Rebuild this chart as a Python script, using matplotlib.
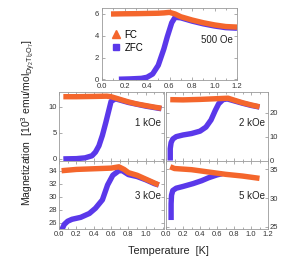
import matplotlib
matplotlib.use("Agg")
import matplotlib.pyplot as plt
from matplotlib.lines import Line2D
from matplotlib.ticker import MultipleLocator

plt.rcParams['font.family'] = ['Liberation Sans', 'DejaVu Sans']

FC_COLOR = '#F4662C'
ZFC_COLOR = '#5A38EA'

# ---- data ----
fields = ['500 Oe', '1 kOe', '2 kOe', '3 kOe', '5 kOe']

t_fc_500 = [0.08, 0.2, 0.3, 0.4, 0.5, 0.55, 0.6, 0.65, 0.7, 0.8, 0.9, 1.0, 1.1, 1.2]
m_fc_500 = [6.0, 6.02, 6.03, 6.05, 6.07, 6.1, 6.15, 6.0, 5.75, 5.45, 5.2, 5.0, 4.85, 4.8]
t_zfc_500 = [0.15, 0.25, 0.35, 0.4, 0.45, 0.5, 0.55, 0.58, 0.62, 0.65, 0.7, 0.8, 0.9, 1.0, 1.1, 1.2]
m_zfc_500 = [0.02, 0.05, 0.1, 0.2, 0.5, 1.3, 2.8, 3.9, 5.2, 5.7, 5.65, 5.35, 5.1, 4.9, 4.75, 4.7]

t_fc_1k = [0.05, 0.2, 0.4, 0.55, 0.6, 0.7, 0.8, 0.9, 1.0, 1.1, 1.18]
m_fc_1k = [11.9, 11.9, 11.95, 12.0, 11.9, 11.4, 10.9, 10.5, 10.2, 9.9, 9.7]
t_zfc_1k = [0.05, 0.2, 0.3, 0.38, 0.42, 0.46, 0.5, 0.54, 0.57, 0.6, 0.65, 0.8, 1.0, 1.18]
m_zfc_1k = [0.0, 0.05, 0.2, 0.6, 1.3, 2.5, 4.5, 7.0, 9.0, 11.0, 11.5, 10.8, 10.1, 9.6]

t_fc_2k = [0.05, 0.2, 0.4, 0.6, 0.73, 0.8, 0.9, 1.0, 1.1]
m_fc_2k = [25.5, 25.4, 25.6, 25.9, 26.1, 25.3, 24.2, 23.3, 22.5]
t_zfc_2k = [0.05, 0.05, 0.06, 0.08, 0.12, 0.2, 0.3, 0.4, 0.47, 0.53, 0.58, 0.62, 0.67, 0.72, 0.8, 0.9, 1.0, 1.1]
m_zfc_2k = [0.0, 5.0, 7.5, 9.0, 10.0, 10.7, 11.3, 12.3, 14.0, 17.0, 21.0, 23.8, 25.5, 25.8, 25.0, 24.0, 23.1, 22.4]

t_fc_3k = [0.03, 0.2, 0.4, 0.6, 0.69, 0.75, 0.8, 0.9, 1.0, 1.1, 1.15]
m_fc_3k = [34.0, 34.2, 34.3, 34.4, 34.6, 34.2, 33.7, 33.3, 32.7, 32.1, 31.8]
t_zfc_3k = [0.03, 0.06, 0.1, 0.15, 0.25, 0.35, 0.42, 0.5, 0.56, 0.62, 0.69, 0.73, 0.8, 0.9, 1.0, 1.1, 1.15]
m_zfc_3k = [24.8, 25.7, 26.2, 26.5, 26.8, 27.4, 28.2, 29.5, 31.8, 33.3, 34.0, 34.0, 33.4, 33.1, 32.6, 32.0, 31.8]

t_fc_5k = [0.05, 0.1, 0.2, 0.3, 0.4, 0.5, 0.6, 0.7, 0.8, 0.9, 1.0, 1.1]
m_fc_5k = [35.4, 35.1, 35.0, 34.9, 34.7, 34.5, 34.3, 34.1, 33.95, 33.8, 33.6, 33.4]
t_zfc_5k = [0.06, 0.06, 0.065, 0.08, 0.12, 0.2, 0.32, 0.42, 0.5, 0.6, 0.66]
m_zfc_5k = [26.2, 29.0, 30.5, 31.3, 31.7, 32.0, 32.5, 33.0, 33.5, 34.0, 34.2]

W, H = 308, 265
fig = plt.figure(figsize=(W / 100, H / 100), dpi=100)


def box(x0, y0, x1, y1):
    return [x0 / W, 1 - y1 / H, (x1 - x0) / W, (y1 - y0) / H]


ax_top = fig.add_axes(box(102, 8, 237, 80))
ax_ml = fig.add_axes(box(59, 92, 164, 161))
ax_mr = fig.add_axes(box(166, 92, 268, 161))
ax_bl = fig.add_axes(box(59, 161, 164, 229))
ax_br = fig.add_axes(box(166, 161, 268, 229))

panels = [
    (ax_top, t_fc_500, m_fc_500, t_zfc_500, m_zfc_500, (0, 1.2), (-0.05, 6.55), [0, 2, 4, 6], 'left', True, [0, 0.2, 0.4, 0.6, 0.8, 1.0, 1.2], fields[0], 0.56),
    (ax_ml, t_fc_1k, m_fc_1k, t_zfc_1k, m_zfc_1k, (0, 1.21), (-0.4, 12.8), [0, 5, 10], 'left', False, [0, 0.2, 0.4, 0.6, 0.8, 1.0], fields[1], 0.55),
    (ax_mr, t_fc_2k, m_fc_2k, t_zfc_2k, m_zfc_2k, (0, 1.2), (-0.2, 28.7), [0, 10, 20], 'right', False, [0, 0.2, 0.4, 0.6, 0.8, 1.0, 1.2], fields[2], 0.55),
    (ax_bl, t_fc_3k, m_fc_3k, t_zfc_3k, m_zfc_3k, (0, 1.21), (25.0, 35.5), [26, 28, 30, 32, 34], 'left', True, [0, 0.2, 0.4, 0.6, 0.8, 1.0], fields[3], 0.49),
    (ax_br, t_fc_5k, m_fc_5k, t_zfc_5k, m_zfc_5k, (0, 1.2), (24.65, 36.4), [25, 30, 35], 'right', True, [0, 0.2, 0.4, 0.6, 0.8, 1.0, 1.2], fields[4], 0.49),
]

for ax, tf, mf, tz, mz, xl, yl, yt, side, xlab, xt, label, ty in panels:
    ax.plot(tz, mz, color=ZFC_COLOR, lw=3.9, solid_capstyle='butt', solid_joinstyle='round', zorder=2)
    ax.plot(tf, mf, color=FC_COLOR, lw=3.9, solid_capstyle='butt', solid_joinstyle='round', zorder=3)
    ax.set_xlim(*xl)
    ax.set_ylim(*yl)
    ax.set_yticks(yt)
    ax.set_xticks(xt)
    ax.xaxis.set_minor_locator(MultipleLocator(0.1))
    for s in ax.spines.values():
        s.set_color('#9a9a9a')
        s.set_linewidth(0.6)
    ax.tick_params(which='both', direction='in', color='#8a8a8a', width=0.5,
                   labelsize=5.5, labelcolor='#333333', pad=1.2)
    ax.tick_params(which='major', length=2.2)
    ax.tick_params(which='minor', length=1.2)
    if side == 'right':
        ax.yaxis.tick_right()
        ax.tick_params(axis='y', which='both', left=True, right=True, labelleft=False, labelright=True, direction='in')
    else:
        ax.tick_params(axis='y', which='both', left=True, right=True, direction='in')
    ax.tick_params(axis='x', which='both', top=True, bottom=True)
    if not xlab:
        ax.tick_params(axis='x', labelbottom=False)
    ax.text(0.97, ty, label, transform=ax.transAxes, ha='right', va='center',
            fontsize=7, color='#222222')

ax_top.tick_params(axis='x', pad=2.0)
ax_top.tick_params(axis='y', pad=2.0)

handles = [
    Line2D([], [], color=FC_COLOR, marker='^', ls='none', markersize=5.5, label='FC'),
    Line2D([], [], color=ZFC_COLOR, marker='s', ls='none', markersize=4.5, label='ZFC'),
]
ax_top.legend(handles=handles, loc='upper left', bbox_to_anchor=(0.03, 0.78), frameon=False,
              fontsize=7, handlelength=0.8, handletextpad=0.5, labelspacing=0.3, borderpad=0.1)

fig.text(168 / W, 1 - 251 / H, 'Temperature  [K]', ha='center', va='center', fontsize=7.8, color='#222222')
fig.text(29 / W, 1 - 123 / H, r'Magnetization  [10$^3$ emu/mol$_{\mathregular{Dy_2Ti_2O_7}}$]',
         ha='center', va='center', rotation=90, fontsize=7.5, color='#222222')

fig.savefig('out.png', dpi=100)
